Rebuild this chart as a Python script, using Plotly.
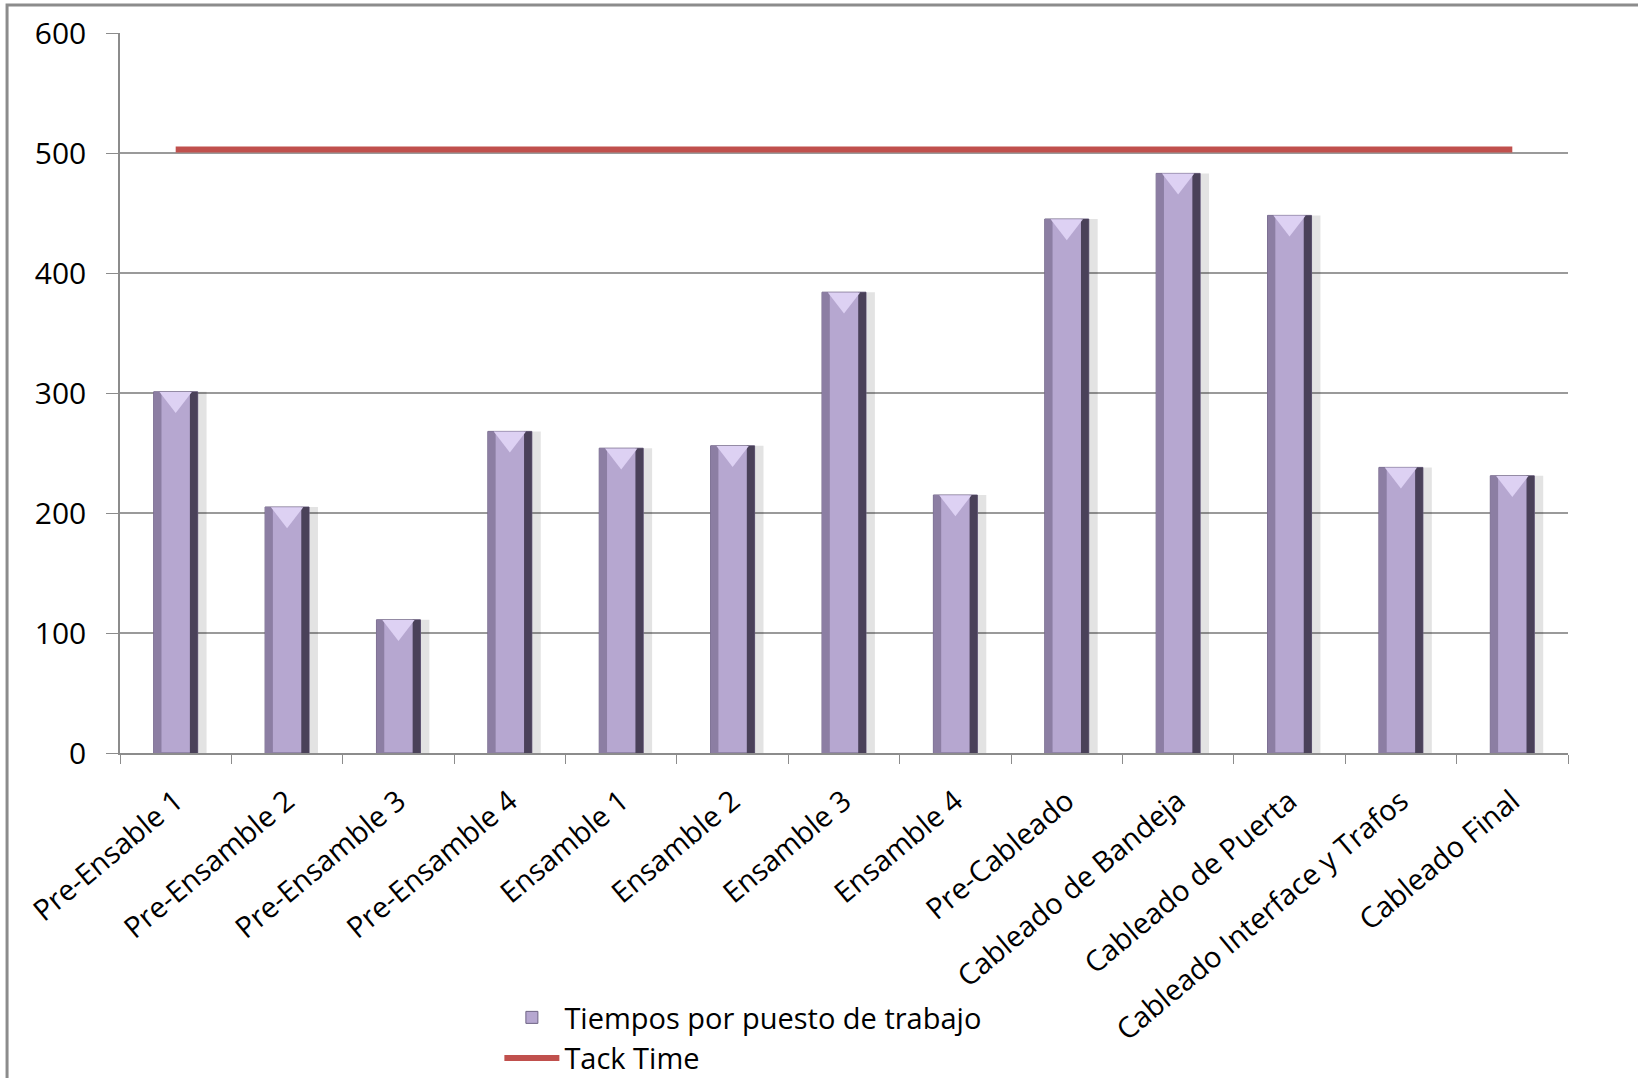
import plotly.graph_objects as go

categories = ["Pre-Ensable 1", "Pre-Ensamble 2", "Pre-Ensamble 3", "Pre-Ensamble 4",
              "Ensamble 1", "Ensamble 2", "Ensamble 3", "Ensamble 4", "Pre-Cableado",
              "Cableado de Bandeja", "Cableado de Puerta", "Cableado Interface y Trafos",
              "Cableado Final"]
tiempos = [301, 205, 111, 268, 254, 256, 384, 215, 445, 483, 448, 238, 231]
tack_time = [503] * len(categories)
y_ticks = [0, 100, 200, 300, 400, 500, 600]

FONT = "Open Sans"
W = 0.395

fig = go.Figure()
# soft shadow to the right of each bar
fig.add_trace(go.Bar(x=categories, y=tiempos, width=0.08, offset=W / 2,
                     marker=dict(color="rgba(0,0,0,0.11)", line=dict(width=0)),
                     showlegend=False, hoverinfo="skip"))
# main bar
fig.add_trace(go.Bar(x=categories, y=tiempos, width=W, name="Tiempos por puesto de trabajo",
                     marker=dict(color="#B6A7D0", line=dict(color="#6E6384", width=1))))
# left bevel
fig.add_trace(go.Bar(x=categories, y=tiempos, width=0.07, offset=-W / 2,
                     marker=dict(color="#8C7EA3", line=dict(width=0)),
                     showlegend=False, hoverinfo="skip"))
# right bevel
fig.add_trace(go.Bar(x=categories, y=tiempos, width=0.07, offset=W / 2 - 0.07,
                     marker=dict(color="#4A4159", line=dict(width=0)),
                     showlegend=False, hoverinfo="skip"))
# top highlight
fig.add_trace(go.Scatter(x=categories, y=[v - 6 for v in tiempos], mode="markers",
                         marker=dict(symbol="triangle-down", size=28, color="#DDD1F3",
                                     line=dict(width=0)),
                         showlegend=False, hoverinfo="skip"))
# tack time line
fig.add_trace(go.Scatter(x=categories, y=tack_time, mode="lines", name="Tack Time",
                         line=dict(color="#C0504D", width=6)))

fig.update_layout(
    width=1638, height=1078,
    margin=dict(l=120, r=70, t=33, b=325, autoexpand=False),
    paper_bgcolor="white", plot_bgcolor="white",
    barmode="overlay",
    font=dict(family=FONT, size=28, color="#000000"),
    legend=dict(x=0.262, y=-0.332, xanchor="left", yanchor="top",
                font=dict(family=FONT, size=29), tracegroupgap=0,
                itemwidth=55, bgcolor="rgba(0,0,0,0)"),
    shapes=[dict(type="rect", xref="paper", yref="paper",
                 x0=-0.078, x1=1.2, y0=-1.0, y1=1.039,
                 line=dict(color="#8C8C8C", width=3), fillcolor="rgba(0,0,0,0)")],
)
fig.update_xaxes(type="category", range=[-0.5, 12.5], showgrid=False, showline=True,
                 automargin=False,
                 linecolor="#8C8C8C", linewidth=1.5, ticks="outside", tickson="boundaries",
                 ticklen=9, tickcolor="#8C8C8C", tickangle=-40, ticklabelstandoff=18,
                 tickfont=dict(family=FONT, size=29))
fig.update_yaxes(range=[0, 600], tickvals=y_ticks, showgrid=True, gridcolor="#9A9A9A",
                 automargin=False,
                 gridwidth=1.5, zeroline=False, showline=True, linecolor="#8C8C8C",
                 linewidth=1.5, ticks="outside", ticklen=12, tickcolor="#8C8C8C",
                 ticklabelstandoff=14, tickfont=dict(family=FONT, size=30))

fig.write_html("out.html")
